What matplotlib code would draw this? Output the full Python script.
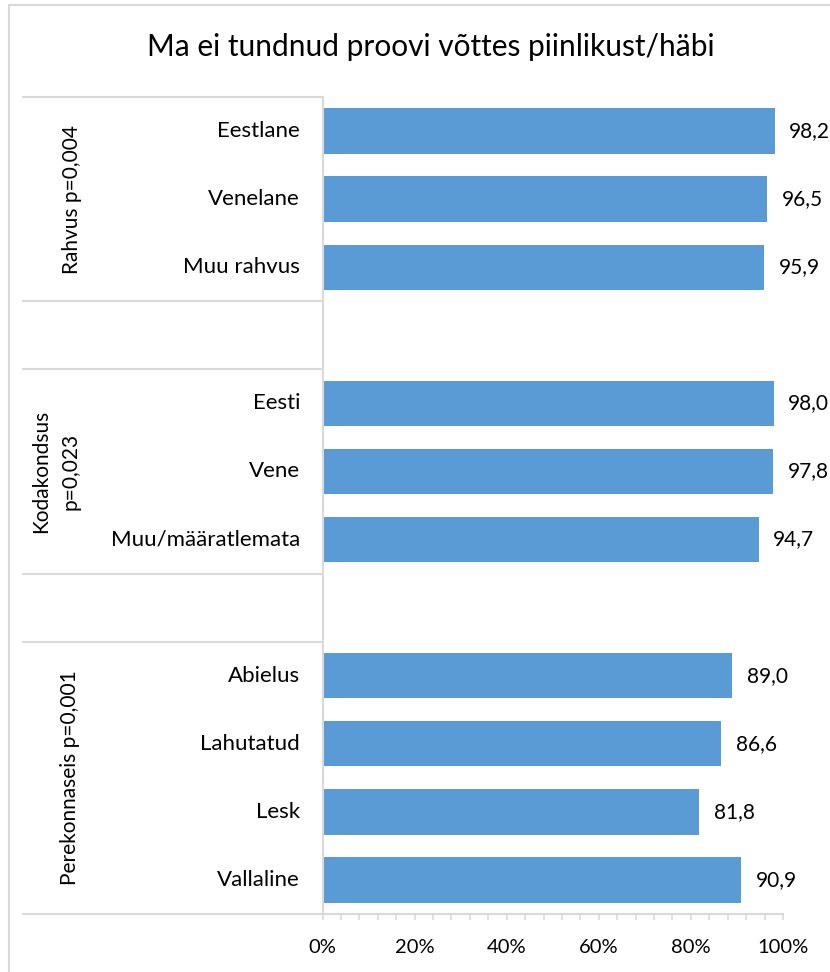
import matplotlib
matplotlib.use("Agg")
import matplotlib.pyplot as plt
from matplotlib.patches import Rectangle
from matplotlib.ticker import MultipleLocator, FuncFormatter

plt.rcParams['font.family'] = ['Lato', 'DejaVu Sans']

title = "Ma ei tundnud proovi võttes piinlikust/häbi"

group_labels = ["Rahvus p=0,004", "Kodakondsus\np=0,023", "Perekonnaseis p=0,001"]
rahvus_cats = ["Eestlane", "Venelane", "Muu rahvus"]
rahvus_vals = [98.2, 96.5, 95.9]
kodakondsus_cats = ["Eesti", "Vene", "Muu/määratlemata"]
kodakondsus_vals = [98.0, 97.8, 94.7]
perekonnaseis_cats = ["Abielus", "Lahutatud", "Lesk", "Vallaline"]
perekonnaseis_vals = [89.0, 86.6, 81.8, 90.9]

BAR = "#5B9BD5"
GRID = "#D9D9D9"
TXT = "#000000"

W, H = 830, 972
fig = plt.figure(figsize=(W / 100, H / 100), dpi=100)

# plot area in pixel coordinates
x0, x1 = 322.5, 783.0
y_top, y_bot = 97.0, 914.0
ax = fig.add_axes([x0 / W, 1 - y_bot / H, (x1 - x0) / W, (y_bot - y_top) / H])

# (group label, label x-centre in px, categories, values)
groups = [
    (group_labels[0], 72, rahvus_cats, rahvus_vals),
    (group_labels[1], 56, kodakondsus_cats, kodakondsus_vals),
    (group_labels[2], 70, perekonnaseis_cats, perekonnaseis_vals),
]

pos = 0
boundaries = [-0.5]
for gi, (glabel, gx, cats, vals) in enumerate(groups):
    start = pos
    for c, v in zip(cats, vals):
        ax.barh(pos, v, height=0.667, color=BAR, zorder=2)
        ax.annotate(f"{v:.1f}".replace(".", ","), xy=(v, pos), xytext=(10.5, 0),
                    textcoords="offset points", ha="left", va="center",
                    fontsize=15, color=TXT, annotation_clip=False)
        ax.text((300 - x0) / (x1 - x0), pos, c, transform=ax.get_yaxis_transform(),
                ha="right", va="center", fontsize=16, color=TXT)
        pos += 1
    end = pos - 1
    ax.text((gx - x0) / (x1 - x0), (start + end) / 2, glabel,
            transform=ax.get_yaxis_transform(), rotation=90,
            ha="center", va="center", multialignment="center",
            fontsize=15, color=TXT, linespacing=1.6)
    boundaries.append(end + 0.5)
    if gi < len(groups) - 1:
        boundaries.append(end + 1.5)
        pos += 1

n_slots = pos
ax.set_xlim(0, 100)
ax.set_ylim(n_slots - 0.5, -0.5)

# horizontal group separators running into the label area
lx = (22 - x0) / (x1 - x0)
for b in boundaries:
    ax.plot([lx, 0], [b, b], transform=ax.get_yaxis_transform(), color=GRID,
            lw=1.5, clip_on=False, zorder=1, solid_capstyle="butt")

for side in ["top", "right"]:
    ax.spines[side].set_visible(False)
for side in ["left", "bottom"]:
    ax.spines[side].set_color(GRID)
    ax.spines[side].set_linewidth(1.5)

ax.set_yticks([])
ax.xaxis.set_major_locator(MultipleLocator(20))
ax.xaxis.set_minor_locator(MultipleLocator(4))
ax.xaxis.set_major_formatter(FuncFormatter(lambda v, _: f"{int(round(v))}%"))
ax.tick_params(axis="x", which="both", direction="out", length=4, width=1.2,
               color=GRID, labelsize=14.5, labelcolor=TXT, pad=14)

fig.text(431 / W, 1 - 47 / H, title, ha="center", va="center", fontsize=21.5, color=TXT)

# outer chart frame
fig.patches.append(Rectangle((9 / W, -0.1), 1.2, 1 - 5.5 / H + 0.1, transform=fig.transFigure,
                             fill=False, edgecolor=GRID, lw=1.5))

fig.savefig("out.png", dpi=100, facecolor="white")
